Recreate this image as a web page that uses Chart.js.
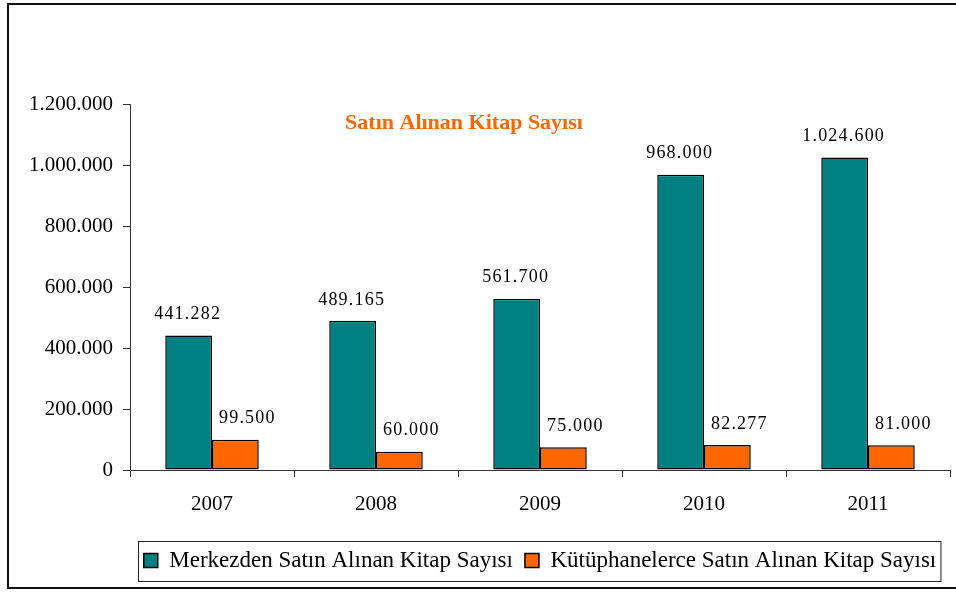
<!DOCTYPE html>
<html>
<head>
<meta charset="utf-8">
<script src="https://cdn.jsdelivr.net/npm/chart.js@4"></script>
<style>
    html, body { margin: 0; padding: 0; background: #fff; }
    #wrap { width: 956px; height: 592px; position: relative; }
</style>
</head>
<body>
<div id="wrap"><canvas id="kitapChart" width="956" height="592"></canvas></div>
<script>
// Data
const years = ['2007', '2008', '2009', '2010', '2011'];
const merkezden = [441282, 489165, 561700, 968000, 1024600];
const kutuphanelerce = [99500, 60000, 75000, 82277, 81000];
const seriesNames = ['Merkezden Satın Alınan Kitap Sayısı', 'Kütüphanelerce Satın Alınan Kitap Sayısı'];
const chartTitle = 'Satın Alınan Kitap Sayısı';

const serif = "'Liberation Serif', 'Times New Roman', serif";

// 1234567 -> 1.234.567
function fmt(v) {
    return String(v).replace(/\B(?=(\d{3})+(?!\d))/g, '.');
}

// Outer frame, title, value labels and legend box
const extras = {
    id: 'extras',
    beforeDraw(chart) {
        const c = chart.ctx;
        c.save();
        c.fillStyle = '#fff';
        c.fillRect(0, 0, chart.width, chart.height);
        c.strokeStyle = '#111';
        c.lineWidth = 2;
        c.strokeRect(8, 4, 1000, 584);
        c.restore();
    },
    afterDatasetsDraw(chart) {
        const c = chart.ctx;
        c.save();
        c.font = '18px ' + serif;
        c.letterSpacing = '1.2px';
        c.fillStyle = '#000';
        c.textAlign = 'center';
        c.textBaseline = 'middle';
        chart.data.datasets.forEach((ds, i) => {
            const shift = i === 0 ? -1 : 12;
            chart.getDatasetMeta(i).data.forEach((bar, j) => {
                c.fillText(fmt(ds.data[j]), bar.x + shift, bar.y - 21);
            });
        });
        c.restore();

        // title sits inside the plot area
        c.save();
        c.font = 'bold 22px ' + serif;
        c.fillStyle = '#FF6600';
        c.textAlign = 'center';
        c.textBaseline = 'middle';
        c.fillText(chartTitle, 464, 123);
        c.restore();
    },
    afterDraw(chart) {
        const boxes = chart.legend.legendHitBoxes;
        if (!boxes || !boxes.length) return;
        let l = Infinity, r = -Infinity, t = Infinity, b = -Infinity;
        boxes.forEach(h => {
            l = Math.min(l, h.left);
            r = Math.max(r, h.left + h.width);
            t = Math.min(t, h.top);
            b = Math.max(b, h.top + h.height);
        });
        const c = chart.ctx;
        c.save();
        c.strokeStyle = '#222';
        c.lineWidth = 1;
        c.strokeRect(Math.round(l) - 5.5, Math.round(t) - 7.5, (r - l) + 10, (b - t) + 17);
        c.restore();
    }
};

const ctx = document.getElementById('kitapChart').getContext('2d');

const kitapChart = new Chart(ctx, {
    type: 'bar',
    data: {
        labels: years,
        datasets: [{
            label: seriesNames[0],
            data: merkezden,
            backgroundColor: '#008080',
            borderColor: '#000',
            borderWidth: 1.5,
            borderSkipped: false
        }, {
            label: seriesNames[1],
            data: kutuphanelerce,
            backgroundColor: '#FF6600',
            borderColor: '#000',
            borderWidth: 1.5,
            borderSkipped: false
        }]
    },
    options: {
        responsive: false,
        animation: false,
        devicePixelRatio: 1,
        layout: {
            padding: { left: 0, right: 6, top: 104, bottom: 10 }
        },
        datasets: {
            bar: { categoryPercentage: 0.57, barPercentage: 1 }
        },
        plugins: {
            title: { display: false },
            tooltip: { enabled: false },
            legend: {
                position: 'bottom',
                fullSize: false,
                labels: {
                    boxWidth: 14,
                    boxHeight: 14,
                    color: '#000',
                    padding: 12,
                    font: { family: serif, size: 23 }
                }
            }
        },
        scales: {
            x: {
                grid: {
                    drawOnChartArea: false,
                    drawTicks: true,
                    tickLength: 7,
                    color: '#333',
                    offset: true
                },
                border: { color: '#333', width: 1 },
                ticks: {
                    color: '#000',
                    padding: 15,
                    font: { family: serif, size: 21 }
                },
                afterFit(s) { s.height = 67; }
            },
            y: {
                min: 0,
                max: 1200000,
                grid: {
                    drawOnChartArea: false,
                    drawTicks: true,
                    tickLength: 7,
                    color: '#333'
                },
                border: { color: '#333', width: 1 },
                ticks: {
                    stepSize: 200000,
                    color: '#000',
                    padding: 10,
                    font: { family: serif, size: 21 },
                    callback: function(value) {
                        return fmt(value);
                    }
                },
                afterFit(s) { s.width = 130; }
            }
        }
    },
    plugins: [extras]
});
</script>
</body>
</html>
